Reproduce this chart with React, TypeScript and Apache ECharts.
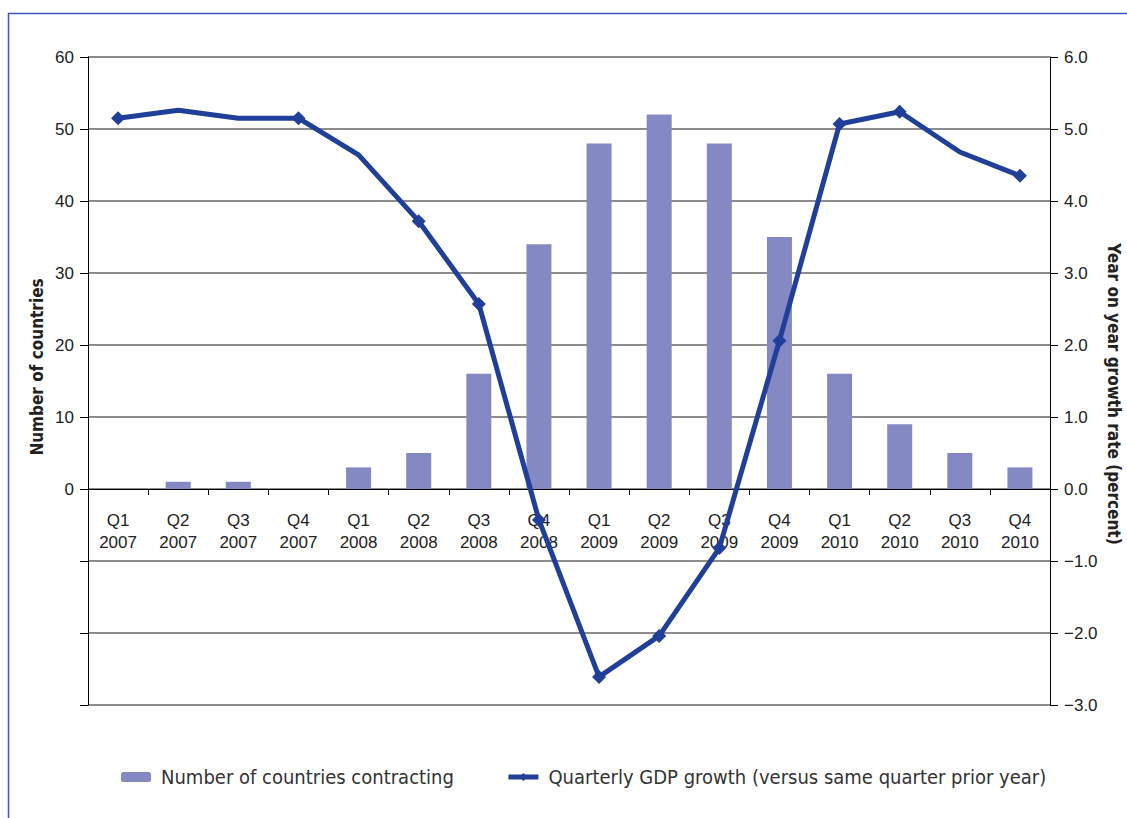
import React, { useEffect, useRef } from "react";
import * as echarts from "echarts";

const quarters = ["Q1", "Q2", "Q3", "Q4", "Q1", "Q2", "Q3", "Q4", "Q1", "Q2", "Q3", "Q4", "Q1", "Q2", "Q3", "Q4"];
const years = ["2007", "2007", "2007", "2007", "2008", "2008", "2008", "2008", "2009", "2009", "2009", "2009", "2010", "2010", "2010", "2010"];
const countriesContracting = [0, 1, 1, 0, 3, 5, 16, 34, 48, 52, 48, 35, 16, 9, 5, 3];
const gdpGrowth = [5.15, 5.26, 5.15, 5.15, 4.64, 3.72, 2.57, -0.43, -2.61, -2.04, -0.82, 2.06, 5.07, 5.24, 4.68, 4.35];
const leftTicks = [0, 10, 20, 30, 40, 50, 60];

export default function App() {
  const ref = useRef<HTMLDivElement>(null);
  useEffect(() => {
    document.body.style.margin = "0";
    const chart = echarts.init(ref.current!, null, { renderer: "svg" });
    const categories = quarters.map((q, i) => q + "\n" + years[i]);
    const noMarker = [1, 2, 4, 14];
    const font = "'Liberation Sans', Arial, sans-serif";
    const narrow = "'Liberation Sans Narrow', 'DejaVu Sans Condensed', sans-serif";
    chart.setOption({
      animation: false,
      backgroundColor: "#ffffff",
      grid: { left: 88, right: 77, top: 57, bottom: 113 },
      legend: {
        left: 116,
        top: 762,
        itemWidth: 30,
        itemHeight: 10,
        itemGap: 52,
        textStyle: { fontFamily: narrow, fontSize: 20, color: "#333", padding: [0, 0, 0, 5] },
        data: [
          { name: "Number of countries contracting" },
          { name: "Quarterly GDP growth (versus same quarter prior year)", lineStyle: { width: 5 } },
        ],
      },
      xAxis: {
        type: "category",
        data: categories,
        position: "bottom",
        offset: -216,
        axisLine: { onZero: false, lineStyle: { color: "#000", width: 1 } },
        axisTick: { show: true, length: 6, lineStyle: { color: "#000" } },
        axisLabel: { fontFamily: font, fontSize: 17, color: "#222", lineHeight: 22, margin: 20 },
        splitLine: { show: false },
      },
      yAxis: [
        {
          type: "value",
          min: -30,
          max: 60,
          interval: 10,
          position: "left",
          axisLine: { show: true, onZero: false, lineStyle: { color: "#000", width: 1 } },
          axisTick: { show: true, length: 8, lineStyle: { color: "#000" } },
          axisLabel: {
            fontFamily: font,
            fontSize: 17,
            color: "#222",
            margin: 14,
            formatter: (v: number) => (leftTicks.indexOf(v) >= 0 ? String(v) : ""),
          },
          splitLine: { show: true, lineStyle: { color: "#666", width: 1.5 } },
        },
        {
          type: "value",
          min: -3,
          max: 6,
          interval: 1,
          position: "right",
          axisLine: { show: true, onZero: false, lineStyle: { color: "#000", width: 1 } },
          axisTick: { show: true, length: 8, lineStyle: { color: "#000" } },
          axisLabel: {
            fontFamily: font,
            fontSize: 17,
            color: "#222",
            margin: 14,
            formatter: (v: number) => (v < 0 ? "\u2212" + Math.abs(v).toFixed(1) : v.toFixed(1)),
          },
          splitLine: { show: false },
        },
      ],
      series: [
        {
          name: "Number of countries contracting",
          type: "bar",
          yAxisIndex: 0,
          data: countriesContracting,
          barWidth: 25,
          itemStyle: { color: "#8489c4" },
        },
        {
          name: "Quarterly GDP growth (versus same quarter prior year)",
          type: "line",
          yAxisIndex: 1,
          data: gdpGrowth.map((v, i) =>
            noMarker.indexOf(i) >= 0 ? { value: v, symbolSize: 0 } : v
          ),
          symbol: "diamond",
          symbolSize: 14,
          lineStyle: { color: "#1f3f99", width: 5 },
          itemStyle: { color: "#1f3f99" },
        },
      ],
      graphic: [
        {
          type: "rect",
          shape: { x: 8.5, y: 13.5, width: 1300, height: 1000 },
          style: { fill: "none", stroke: "#3d52c4", lineWidth: 1.5 },
          silent: true,
        },
        {
          type: "text",
          x: 37,
          y: 367,
          rotation: Math.PI / 2,
          style: {
            text: "Number of countries",
            fontFamily: narrow,
            fontWeight: "bold",
            fontSize: 17,
            fill: "#222",
            align: "center",
            verticalAlign: "middle",
          },
        },
        {
          type: "text",
          x: 1114,
          y: 394,
          rotation: -Math.PI / 2,
          style: {
            text: "Year on year growth rate (percent)",
            fontFamily: narrow,
            fontWeight: "bold",
            fontSize: 17,
            fill: "#222",
            align: "center",
            verticalAlign: "middle",
          },
        },
      ],
    });
    return () => chart.dispose();
  }, []);
  return <div ref={ref} style={{ width: 1127, height: 818 }} />;
}
